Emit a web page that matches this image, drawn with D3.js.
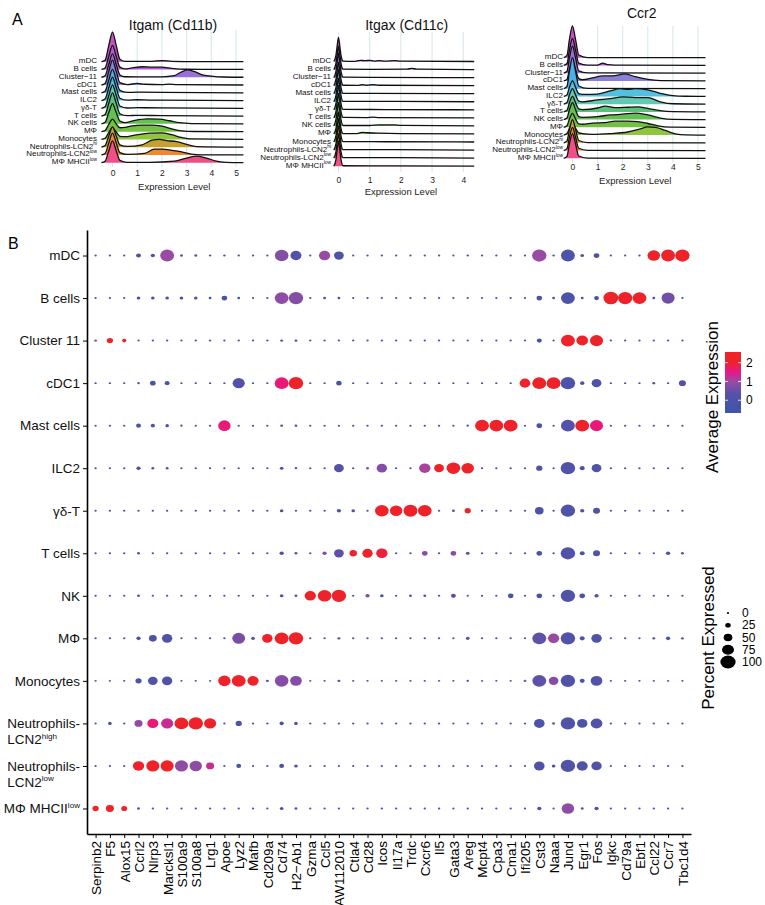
<!DOCTYPE html>
<html>
<head>
<meta charset="utf-8">
<script src="https://cdn.jsdelivr.net/npm/d3@7"></script>
<style>
  body { margin: 0; background: #fff; }
  text { font-family: 'Liberation Sans', Arial, Helvetica, sans-serif; }
</style>
</head>
<body>
<svg id="fig" width="765" height="905"></svg>
<script>
// ---------- panel A data: ridge densities, [expression level, density in row units] ----------
const ridgeCells = ['mDC', 'B cells', 'Cluster\u221211', 'cDC1', 'Mast cells', 'ILC2', 'γδ-T', 'T cells',
  'NK cells', 'MΦ', 'Monocytes', 'Neutrophils-LCN2^hi', 'Neutrophils-LCN2^low', 'MΦ MHCII^low']

const itgamDensity = [
  [[-0.45, 0], [-0.3, 0.2], [-0.15, 2.1], [0, 3.8], [0.15, 2.1], [0.3, 0.3], [0.5, 0.04], [1, 0.03], [1.6, 0.05], [2, 0.15], [2.4, 0.04], [3, 0.02], [5.3, 0]],
  [[-0.45, 0], [-0.3, 0.2], [-0.15, 1.7], [0, 3.1], [0.15, 1.7], [0.3, 0.3], [0.5, 0.08], [0.8, 0.2], [1.2, 0.35], [1.6, 0.3], [2, 0.3], [2.4, 0.15], [3, 0.03], [5.3, 0]],
  [[-0.45, 0], [-0.3, 0.2], [-0.15, 1.65], [0, 3.0], [0.15, 1.65], [0.3, 0.3], [0.5, 0.06], [1, 0.05], [2, 0.05], [2.5, 0.2], [2.8, 0.7], [3.05, 0.95], [3.3, 0.75], [3.6, 0.35], [4, 0.15], [4.5, 0.03], [5.3, 0]],
  [[-0.45, 0], [-0.3, 0.2], [-0.15, 1.75], [0, 3.2], [0.15, 1.75], [0.3, 0.3], [0.6, 0.06], [1, 0.2], [1.3, 0.1], [2, 0.06], [2.3, 0.12], [2.6, 0.05], [5.3, 0]],
  [[-0.45, 0], [-0.3, 0.2], [-0.15, 1.65], [0, 3.0], [0.15, 1.65], [0.3, 0.3], [0.6, 0.05], [1, 0.08], [2, 0.05], [5.3, 0]],
  [[-0.45, 0], [-0.3, 0.2], [-0.15, 1.65], [0, 3.0], [0.15, 1.65], [0.3, 0.3], [0.6, 0.05], [1, 0.1], [1.5, 0.06], [2, 0.05], [5.3, 0]],
  [[-0.45, 0], [-0.3, 0.2], [-0.15, 1.65], [0, 3.0], [0.15, 1.65], [0.3, 0.3], [0.6, 0.04], [1, 0.08], [2, 0.06], [5.3, 0]],
  [[-0.45, 0], [-0.3, 0.2], [-0.15, 1.65], [0, 3.0], [0.15, 1.65], [0.3, 0.3], [0.6, 0.05], [1, 0.1], [2, 0.05], [5.3, 0]],
  [[-0.45, 0], [-0.3, 0.2], [-0.15, 1.45], [0, 2.6], [0.15, 1.45], [0.3, 0.35], [0.5, 0.15], [0.9, 0.45], [1.4, 0.65], [1.9, 0.6], [2.3, 0.4], [2.7, 0.15], [3.2, 0.04], [5.3, 0]],
  [[-0.45, 0], [-0.3, 0.15], [-0.15, 0.95], [0, 1.6], [0.15, 1.0], [0.3, 0.5], [0.5, 0.55], [0.8, 0.75], [1.2, 0.85], [1.6, 0.85], [2, 0.7], [2.4, 0.35], [2.8, 0.1], [3.3, 0.02], [5.3, 0]],
  [[-0.45, 0], [-0.3, 0.15], [-0.15, 0.9], [0, 1.5], [0.15, 0.95], [0.3, 0.4], [0.5, 0.35], [0.9, 0.55], [1.5, 0.8], [2, 0.85], [2.4, 0.6], [2.8, 0.25], [3.2, 0.06], [5.3, 0]],
  [[-0.45, 0], [-0.3, 0.2], [-0.15, 1.45], [0, 2.6], [0.15, 1.45], [0.3, 0.3], [0.6, 0.1], [1.2, 0.3], [1.6, 0.9], [1.9, 1.0], [2.2, 0.85], [2.6, 0.7], [3, 0.35], [3.4, 0.08], [5.3, 0]],
  [[-0.45, 0], [-0.3, 0.2], [-0.15, 1.55], [0, 2.8], [0.15, 1.55], [0.3, 0.3], [0.6, 0.06], [1.3, 0.2], [1.7, 0.75], [2, 0.75], [2.4, 0.6], [2.8, 0.4], [3.2, 0.1], [3.6, 0.02], [5.3, 0]],
  [[-0.45, 0], [-0.3, 0.2], [-0.15, 1.55], [0, 2.8], [0.15, 1.55], [0.3, 0.3], [0.6, 0.05], [1.5, 0.05], [2.5, 0.2], [3, 0.6], [3.4, 0.85], [3.8, 0.6], [4.2, 0.2], [4.6, 0.05], [5.3, 0]]
]

const itgaxDensity = [
  [[-0.15, 0], [-0.08, 0.8], [-0.04, 2.0], [0, 3.0], [0.04, 2.0], [0.08, 0.8], [0.15, 0.05], [0.5, 0.02], [0.7, 0.15], [0.85, 0.1], [1, 0.15], [1.15, 0.05], [1.3, 0.12], [1.5, 0.04], [1.8, 0.12], [2, 0.04], [4.35, 0]],
  [[-0.15, 0], [-0.08, 0.8], [-0.04, 1.9], [0, 2.9], [0.04, 1.9], [0.08, 0.8], [0.15, 0.05], [1, 0.03], [2.2, 0.05], [2.35, 0.15], [2.5, 0.05], [4.35, 0]],
  [[-0.15, 0], [-0.08, 0.8], [-0.04, 2.0], [0, 3.0], [0.04, 2.0], [0.08, 0.8], [0.15, 0.05], [1, 0.02], [4.35, 0]],
  [[-0.15, 0], [-0.08, 0.8], [-0.04, 1.9], [0, 2.9], [0.04, 1.9], [0.08, 0.8], [0.15, 0.05], [0.6, 0.03], [0.75, 0.12], [0.9, 0.05], [1.1, 0.12], [1.3, 0.05], [4.35, 0]],
  [[-0.15, 0], [-0.08, 0.8], [-0.04, 2.0], [0, 3.0], [0.04, 2.0], [0.08, 0.8], [0.15, 0.05], [1, 0.03], [4.35, 0]],
  [[-0.15, 0], [-0.08, 0.8], [-0.04, 1.9], [0, 2.9], [0.04, 1.9], [0.08, 0.8], [0.15, 0.05], [1.8, 0.04], [4.35, 0]],
  [[-0.15, 0], [-0.08, 0.8], [-0.04, 2.0], [0, 3.0], [0.04, 2.0], [0.08, 0.8], [0.15, 0.05], [1.5, 0.03], [4.35, 0]],
  [[-0.15, 0], [-0.08, 0.8], [-0.04, 2.0], [0, 3.0], [0.04, 2.0], [0.08, 0.8], [0.15, 0.05], [0.9, 0.03], [1.1, 0.08], [1.3, 0.03], [4.35, 0]],
  [[-0.15, 0], [-0.08, 0.8], [-0.04, 1.9], [0, 2.9], [0.04, 1.9], [0.08, 0.8], [0.15, 0.05], [1, 0.05], [1.3, 0.12], [1.8, 0.12], [2, 0.06], [4.35, 0]],
  [[-0.15, 0], [-0.08, 0.7], [-0.04, 1.8], [0, 2.7], [0.04, 1.8], [0.08, 0.7], [0.15, 0.05], [0.6, 0.05], [0.75, 0.2], [0.95, 0.15], [1.3, 0.1], [2, 0.05], [4.35, 0]],
  [[-0.15, 0], [-0.08, 0.8], [-0.04, 1.9], [0, 2.9], [0.04, 1.9], [0.08, 0.8], [0.15, 0.05], [1.5, 0.03], [4.35, 0]],
  [[-0.15, 0], [-0.08, 0.8], [-0.04, 2.0], [0, 3.0], [0.04, 2.0], [0.08, 0.8], [0.15, 0.05], [1.8, 0.05], [4.35, 0]],
  [[-0.15, 0], [-0.08, 0.8], [-0.04, 2.0], [0, 3.0], [0.04, 2.0], [0.08, 0.8], [0.15, 0.05], [1.9, 0.06], [4.35, 0]],
  [[-0.15, 0], [-0.08, 0.85], [-0.04, 2.1], [0, 3.1], [0.04, 2.1], [0.08, 0.85], [0.15, 0.05], [1.8, 0.04], [4.35, 0]]
]

const ccr2Density = [
  [[-0.35, 0], [-0.22, 0.3], [-0.12, 2.4], [0, 4.1], [0.12, 2.4], [0.25, 0.35], [0.6, 0.02], [5.3, 0]],
  [[-0.35, 0], [-0.22, 0.25], [-0.12, 2.0], [0, 3.5], [0.12, 2.0], [0.25, 0.3], [0.6, 0.03], [1, 0.05], [1.2, 0.3], [1.4, 0.1], [2, 0.03], [5.3, 0]],
  [[-0.35, 0], [-0.22, 0.25], [-0.12, 2.0], [0, 3.5], [0.12, 2.0], [0.25, 0.3], [0.6, 0.03], [1, 0.03], [5.3, 0]],
  [[-0.35, 0], [-0.22, 0.2], [-0.12, 1.5], [0, 2.6], [0.12, 1.5], [0.25, 0.3], [0.4, 0.15], [0.8, 0.4], [1.2, 0.65], [1.6, 0.65], [2.1, 0.9], [2.5, 0.55], [3, 0.2], [3.5, 0.05], [5.3, 0]],
  [[-0.35, 0], [-0.22, 0.3], [-0.12, 2.3], [0, 4.0], [0.12, 2.3], [0.25, 0.35], [0.6, 0.03], [5.3, 0]],
  [[-0.35, 0], [-0.22, 0.2], [-0.12, 1.2], [0, 2.0], [0.12, 1.2], [0.25, 0.35], [0.4, 0.25], [1, 0.3], [1.5, 0.7], [1.9, 1.0], [2.2, 0.9], [2.5, 1.0], [3, 0.85], [3.5, 0.4], [4, 0.1], [4.5, 0.02], [5.3, 0]],
  [[-0.35, 0], [-0.22, 0.2], [-0.12, 1.2], [0, 2.0], [0.12, 1.2], [0.25, 0.4], [0.4, 0.3], [1, 0.55], [1.5, 0.7], [2, 0.95], [2.5, 0.85], [3, 0.85], [3.5, 0.3], [4, 0.05], [5.3, 0]],
  [[-0.35, 0], [-0.22, 0.2], [-0.12, 1.2], [0, 2.0], [0.12, 1.2], [0.25, 0.4], [0.4, 0.3], [1, 0.5], [1.3, 0.75], [1.7, 0.55], [2.2, 0.6], [2.6, 0.65], [3, 0.45], [3.5, 0.15], [4, 0.03], [5.3, 0]],
  [[-0.35, 0], [-0.22, 0.2], [-0.12, 1.3], [0, 2.2], [0.12, 1.3], [0.25, 0.4], [0.4, 0.3], [1, 0.4], [1.5, 0.6], [2, 0.7], [2.5, 0.85], [3, 0.6], [3.5, 0.2], [4, 0.03], [5.3, 0]],
  [[-0.35, 0], [-0.22, 0.2], [-0.12, 1.1], [0, 1.8], [0.12, 1.1], [0.25, 0.45], [0.4, 0.4], [0.8, 0.55], [1.3, 0.6], [1.7, 0.8], [2.2, 0.8], [2.6, 0.75], [3, 0.5], [3.4, 0.2], [3.9, 0.03], [5.3, 0]],
  [[-0.35, 0], [-0.22, 0.2], [-0.12, 0.9], [0, 1.5], [0.12, 0.9], [0.25, 0.3], [0.4, 0.2], [0.8, 0.1], [1.5, 0.2], [2.2, 0.4], [2.7, 0.8], [3, 1.05], [3.3, 1.0], [3.7, 0.6], [4.1, 0.15], [4.5, 0.02], [5.3, 0]],
  [[-0.35, 0], [-0.22, 0.25], [-0.12, 1.75], [0, 3.0], [0.12, 1.75], [0.25, 0.3], [0.6, 0.04], [5.3, 0]],
  [[-0.35, 0], [-0.22, 0.25], [-0.12, 1.75], [0, 3.0], [0.12, 1.75], [0.25, 0.3], [0.6, 0.03], [5.3, 0]],
  [[-0.35, 0], [-0.22, 0.25], [-0.12, 1.9], [0, 3.2], [0.12, 1.9], [0.25, 0.3], [0.6, 0.03], [5.3, 0]]
]

// ---------- panel B data: dot plot ----------
const cellTypes = ['mDC', 'B cells', 'Cluster 11', 'cDC1', 'Mast cells', 'ILC2', 'γδ-T', 'T cells', 'NK', 'MΦ',
  'Monocytes', 'Neutrophils-\nLCN2^high', 'Neutrophils-\nLCN2^low', 'MΦ MHCII^low']

const genes = ['Serpinb2', 'F5', 'Alox15', 'Ccrl2', 'Nlrp3', 'Marcksl1', 'S100a9', 'S100a8', 'Lrg1', 'Apoe',
  'Lyz2', 'Mafb', 'Cd209a', 'Cd74', 'H2\u2212Ab1', 'Gzma', 'Ccl5', 'AW112010', 'Ctla4', 'Cd28', 'Icos',
  'Il17a', 'Trdc', 'Cxcr6', 'Il5', 'Gata3', 'Areg', 'Mcpt4', 'Cpa3', 'Cma1', 'Ifi205', 'Cst3', 'Naaa',
  'Jund', 'Egr1', 'Fos', 'Igkc', 'Cd79a', 'Ebf1', 'Ccl22', 'Ccr7', 'Tbc1d4']

// percent of cells expressing, one row per cell type, one value per gene
const pctExpressed = [
  [1, 1, 1, 21, 16, 90, 5, 5, 3, 3, 2, 1, 1, 88, 68, 1, 70, 58, 1, 1, 1, 1, 1, 1, 1, 1, 3, 1, 1, 1, 1, 94, 3, 90, 11, 26, 1, 1, 1, 79, 90, 94],
  [1, 1, 1, 11, 11, 11, 11, 11, 5, 26, 5, 1, 1, 90, 94, 1, 5, 5, 1, 1, 1, 1, 1, 1, 1, 1, 1, 1, 1, 1, 1, 26, 5, 90, 5, 21, 97, 94, 90, 5, 84, 1],
  [5, 31, 16, 1, 1, 1, 1, 1, 1, 1, 1, 1, 1, 5, 5, 1, 1, 1, 1, 1, 1, 1, 1, 1, 1, 1, 1, 1, 1, 1, 1, 21, 1, 90, 73, 84, 1, 1, 1, 1, 1, 1],
  [1, 1, 1, 3, 26, 21, 1, 1, 1, 1, 76, 1, 1, 90, 94, 1, 1, 24, 1, 1, 1, 1, 1, 1, 1, 1, 1, 1, 1, 1, 65, 90, 90, 94, 16, 58, 1, 1, 1, 5, 1, 37],
  [1, 1, 1, 21, 16, 11, 2, 1, 1, 79, 1, 1, 1, 5, 5, 1, 1, 1, 1, 1, 1, 1, 1, 1, 1, 1, 2, 90, 88, 90, 1, 26, 1, 90, 90, 84, 1, 1, 1, 1, 1, 1],
  [1, 1, 1, 16, 5, 5, 1, 1, 1, 1, 1, 1, 1, 11, 3, 1, 1, 58, 1, 5, 63, 1, 1, 70, 58, 88, 79, 1, 1, 1, 1, 31, 1, 94, 21, 58, 1, 1, 1, 1, 1, 1],
  [1, 1, 1, 1, 1, 1, 1, 1, 1, 1, 1, 1, 1, 11, 1, 1, 1, 16, 11, 1, 88, 79, 90, 88, 1, 5, 31, 1, 1, 1, 1, 50, 1, 94, 16, 37, 1, 1, 1, 1, 1, 1],
  [1, 1, 1, 5, 1, 1, 1, 1, 1, 1, 1, 1, 1, 16, 5, 1, 16, 58, 40, 63, 70, 1, 1, 26, 1, 26, 11, 1, 1, 1, 1, 26, 1, 94, 21, 37, 1, 1, 1, 1, 16, 5],
  [1, 1, 1, 5, 1, 1, 1, 1, 1, 1, 1, 1, 1, 11, 5, 70, 88, 94, 1, 16, 11, 1, 5, 5, 1, 21, 1, 1, 1, 26, 1, 26, 1, 94, 26, 16, 1, 1, 1, 1, 1, 1],
  [1, 1, 1, 16, 43, 63, 1, 1, 1, 1, 82, 11, 63, 90, 94, 1, 1, 5, 1, 1, 1, 1, 1, 1, 1, 1, 11, 1, 1, 1, 1, 90, 70, 94, 21, 63, 1, 1, 1, 5, 16, 5],
  [1, 1, 1, 31, 58, 63, 1, 1, 1, 79, 90, 70, 5, 88, 73, 1, 1, 5, 1, 1, 1, 1, 1, 1, 1, 1, 3, 1, 1, 1, 5, 90, 58, 94, 21, 73, 1, 1, 1, 1, 1, 1],
  [1, 11, 1, 45, 68, 76, 90, 94, 76, 1, 31, 1, 1, 16, 11, 1, 1, 1, 1, 1, 1, 1, 1, 1, 1, 1, 1, 1, 1, 1, 1, 65, 5, 94, 63, 73, 1, 1, 1, 1, 1, 1],
  [1, 1, 1, 70, 84, 84, 84, 79, 45, 1, 21, 1, 1, 21, 11, 1, 1, 1, 1, 1, 1, 1, 1, 1, 1, 1, 1, 1, 1, 1, 1, 65, 11, 94, 68, 63, 1, 1, 1, 1, 1, 1],
  [31, 45, 29, 5, 1, 1, 1, 1, 1, 1, 1, 1, 1, 11, 5, 1, 1, 1, 1, 1, 1, 1, 1, 1, 1, 1, 1, 1, 1, 1, 1, 16, 1, 79, 5, 16, 1, 1, 1, 1, 1, 1]
]

// scaled average expression, same layout
const avgExpression = [
  [-0.3, -0.3, -0.3, -0.1, -0.1, 1.0, -0.2, -0.2, -0.3, -0.3, -0.3, -0.3, -0.3, 0.8, 0.3, -0.3, 1.0, 0.2, -0.3, -0.3, -0.3, -0.3, -0.3, -0.3, -0.3, -0.3, -0.3, -0.3, -0.3, -0.3, -0.3, 1.0, -0.3, 0, -0.2, -0.1, -0.3, -0.3, -0.3, 2.3, 2.3, 2.3],
  [-0.3, -0.3, -0.3, -0.2, -0.2, -0.2, -0.2, -0.2, -0.3, -0.1, -0.3, -0.3, -0.3, 0.9, 0.8, -0.3, -0.3, -0.3, -0.3, -0.3, -0.3, -0.3, -0.3, -0.3, -0.3, -0.3, -0.3, -0.3, -0.3, -0.3, -0.3, -0.1, -0.3, 0, -0.3, -0.1, 2.3, 2.3, 2.3, -0.3, 0.6, -0.3],
  [0.9, 2.3, 2.3, -0.3, -0.3, -0.3, -0.3, -0.3, -0.3, -0.3, -0.3, -0.3, -0.3, -0.3, -0.3, -0.3, -0.3, -0.3, -0.3, -0.3, -0.3, -0.3, -0.3, -0.3, -0.3, -0.3, -0.3, -0.3, -0.3, -0.3, -0.3, -0.1, -0.3, 2.3, 2.3, 2.3, -0.3, -0.3, -0.3, -0.3, -0.3, -0.3],
  [-0.3, -0.3, -0.3, -0.3, -0.1, -0.1, -0.3, -0.3, -0.3, -0.3, 0.3, -0.3, -0.3, 1.6, 2.2, -0.3, -0.3, -0.1, -0.3, -0.3, -0.3, -0.3, -0.3, -0.3, -0.3, -0.3, -0.3, -0.3, -0.3, -0.3, 2.3, 2.3, 2.3, 0, -0.1, 0.1, -0.3, -0.3, -0.3, -0.2, -0.3, 0.2],
  [-0.3, -0.3, -0.3, -0.1, -0.1, -0.2, -0.3, -0.3, -0.3, 1.6, -0.3, -0.3, -0.3, -0.2, -0.2, -0.3, -0.3, -0.3, -0.3, -0.3, -0.3, -0.3, -0.3, -0.3, -0.3, -0.3, -0.3, 2.3, 2.3, 2.3, -0.3, -0.1, -0.3, 0.2, 2.3, 1.6, -0.3, -0.3, -0.3, -0.3, -0.3, -0.3],
  [-0.3, -0.3, -0.3, -0.1, -0.2, -0.2, -0.3, -0.3, -0.3, -0.3, -0.3, -0.3, -0.3, -0.1, -0.3, -0.3, -0.3, 0.2, -0.3, 0.7, 0.8, -0.3, -0.3, 1.1, 2.2, 2.3, 2.3, -0.3, -0.3, -0.3, -0.3, -0.1, -0.3, 0.1, -0.1, 0.1, -0.3, -0.3, -0.3, -0.3, -0.3, -0.3],
  [-0.3, -0.3, -0.3, -0.3, -0.3, -0.3, -0.3, -0.3, -0.3, -0.3, -0.3, -0.3, -0.3, -0.1, -0.3, -0.3, -0.3, -0.1, -0.1, -0.3, 2.3, 2.3, 2.3, 2.3, -0.3, -0.2, 2.3, -0.3, -0.3, -0.3, -0.3, 0, -0.3, 0.1, -0.1, 0, -0.3, -0.3, -0.3, -0.3, -0.3, -0.3],
  [-0.3, -0.3, -0.3, -0.2, -0.3, -0.3, -0.3, -0.3, -0.3, -0.3, -0.3, -0.3, -0.3, -0.1, -0.2, -0.3, 0.8, 0.4, 2.2, 2.3, 1.9, -0.3, -0.3, 0.8, -0.3, 0.8, -0.1, -0.3, -0.3, -0.3, -0.3, -0.1, -0.3, 0.1, -0.1, 0, -0.3, -0.3, -0.3, -0.3, -0.1, -0.2],
  [-0.3, -0.3, -0.3, -0.2, -0.3, -0.3, -0.3, -0.3, -0.3, -0.3, -0.3, -0.3, -0.3, -0.1, -0.2, 2.3, 2.3, 2.3, -0.3, 0.7, -0.1, -0.3, -0.2, -0.2, -0.3, 0.3, -0.3, -0.3, -0.3, -0.1, -0.3, -0.1, -0.3, 0.1, -0.1, -0.1, -0.3, -0.3, -0.3, -0.3, -0.3, -0.3],
  [-0.3, -0.3, -0.3, -0.1, 0, 0.1, -0.3, -0.3, -0.3, -0.3, 0.7, -0.2, 2.3, 2.3, 2.3, -0.3, -0.3, -0.2, -0.3, -0.3, -0.3, -0.3, -0.3, -0.3, -0.3, -0.3, -0.1, -0.3, -0.3, -0.3, -0.3, 0.4, 1.0, 0.1, -0.1, 0.1, -0.3, -0.3, -0.3, -0.2, -0.1, -0.2],
  [-0.3, -0.3, -0.3, 0, 0.1, 0.1, -0.3, -0.3, -0.3, 2.3, 2.3, 2.3, -0.2, 0.8, 0.8, -0.3, -0.3, -0.2, -0.3, -0.3, -0.3, -0.3, -0.3, -0.3, -0.3, -0.3, -0.2, -0.3, -0.3, -0.3, 0.8, 0.4, 0.8, 0.1, -0.1, 0.2, -0.3, -0.3, -0.3, -0.3, -0.3, -0.3],
  [-0.3, -0.2, -0.3, 0.9, 1.6, 1.3, 2.3, 2.3, 2.3, -0.3, 0, -0.3, -0.3, -0.1, -0.1, -0.3, -0.3, -0.3, -0.3, -0.3, -0.3, -0.3, -0.3, -0.3, -0.3, -0.3, -0.3, -0.3, -0.3, -0.3, -0.3, 0, -0.2, 0.1, 0, 0.1, -0.3, -0.3, -0.3, -0.3, -0.3, -0.3],
  [-0.3, -0.3, -0.3, 2.3, 2.3, 2.3, 0.9, 0.9, 1.3, -0.3, -0.1, -0.3, -0.3, -0.1, -0.2, -0.3, -0.3, -0.3, -0.3, -0.3, -0.3, -0.3, -0.3, -0.3, -0.3, -0.3, -0.3, -0.3, -0.3, -0.3, -0.3, 0.1, -0.2, 0.1, 0.1, 0.1, -0.3, -0.3, -0.3, -0.3, -0.3, -0.3],
  [2.3, 2.3, 2.3, -0.2, -0.3, -0.3, -0.3, -0.3, -0.3, -0.3, -0.3, -0.3, -0.3, -0.1, -0.2, -0.3, -0.3, -0.3, -0.3, -0.3, -0.3, -0.3, -0.3, -0.3, -0.3, -0.3, -0.3, -0.3, -0.3, -0.3, -0.3, -0.1, -0.3, 0.9, -0.2, -0.1, -0.3, -0.3, -0.3, -0.3, -0.3, -0.3]
]

const colorTicks = [0, 1, 2]
const sizeTicks = [0, 25, 50, 75, 100]

// ---------- styles ----------
const ridgeFill = ['#c94fc4', '#b25ccf', '#9b6fd8', '#8a80d8', '#4bb0ea', '#52c0e0', '#62c9b2', '#5cc27a',
  '#63c150', '#74c043', '#8fc63e', '#c6a12c', '#f0892c', '#ef4f86']

const svg = d3.select('#fig')

function richText (g, str, x, y, size, anchor) {
  const parts = str.split('^')
  const t = g.append('text')
    .attr('x', x).attr('y', y)
    .attr('text-anchor', anchor)
    .style('font-size', size + 'px')
    .attr('fill', '#111')
  t.append('tspan').text(parts[0])
  if (parts[1]) {
    t.append('tspan').attr('dy', -size * 0.4).style('font-size', (size * 0.6) + 'px').text(parts[1])
  }
  return t
}

// ---------- panel A ----------
const ridgePanels = [
  { title: 'Itgam (Cd11b)', titleX: 173, titleY: 30, xDomain: [-0.45, 5.3], xRange: [101.4, 243.4], ticks: [0, 1, 2, 3, 4, 5],
    top: 61.7, step: 7.77, labelRight: 97, gridTop: 30, gridBottom: 167, tickY: 170, axisTitleY: 190, density: itgamDensity },
  { title: 'Itgax (Cd11c)', titleX: 406.7, titleY: 30, xDomain: [-0.15, 4.35], xRange: [333.8, 474.2], ticks: [0, 1, 2, 3, 4],
    top: 61.5, step: 8.05, labelRight: 331, gridTop: 32, gridBottom: 172, tickY: 177, axisTitleY: 195, density: itgaxDensity },
  { title: 'Ccr2', titleX: 641.7, titleY: 18, xDomain: [-0.35, 5.3], xRange: [563.7, 705.5], ticks: [0, 1, 2, 3, 4, 5],
    top: 57.7, step: 7.74, labelRight: 563, gridTop: 26, gridBottom: 163, tickY: 163.5, axisTitleY: 184, density: ccr2Density }
]

function ridgePanel (p) {
  const g = svg.append('g')
  const x = d3.scaleLinear().domain(p.xDomain).range(p.xRange)
  const y = d3.scalePoint().domain(ridgeCells).range([p.top, p.top + p.step * (ridgeCells.length - 1)])
  const h = d3.scaleLinear().domain([0, 1]).range([0, p.step])

  g.selectAll('line.grid').data(p.ticks).join('line')
    .attr('class', 'grid')
    .attr('x1', d => x(d)).attr('x2', d => x(d))
    .attr('y1', p.gridTop).attr('y2', p.gridBottom)
    .attr('stroke', '#d9e8ec').attr('stroke-width', 1.1)

  p.density.forEach((pts, i) => {
    const base = y(ridgeCells[i])
    const area = d3.area()
      .x(d => x(d[0])).y0(base).y1(d => base - h(d[1]))
      .curve(d3.curveMonotoneX)
    const line = d3.line()
      .x(d => x(d[0])).y(d => base - h(d[1]))
      .curve(d3.curveMonotoneX)
    g.append('path').attr('d', area(pts)).attr('fill', ridgeFill[i])
    g.append('path').attr('d', line(pts)).attr('fill', 'none')
      .attr('stroke', '#111').attr('stroke-width', 1.3).attr('stroke-linejoin', 'round')
  })

  ridgeCells.forEach(c => {
    richText(g, c, p.labelRight, y(c) + 1.5, 8, 'end')
  })

  const axis = g.append('g').attr('transform', `translate(0,${p.tickY})`)
    .call(d3.axisBottom(x).tickValues(p.ticks).tickSize(0).tickPadding(0).tickFormat(d3.format('d')))
  axis.select('.domain').remove()
  axis.selectAll('.tick text').style('font-size', '8.5px').attr('fill', '#222')
    .style('font-family', "'Liberation Sans', Arial, sans-serif")

  g.append('text').attr('x', (x(p.ticks[0]) + x(p.ticks[p.ticks.length - 1])) / 2).attr('y', p.axisTitleY)
    .attr('text-anchor', 'middle').style('font-size', '9.5px').attr('fill', '#222').text('Expression Level')
  g.append('text').attr('x', p.titleX).attr('y', p.titleY)
    .attr('text-anchor', 'middle').style('font-size', '14px').attr('fill', '#111').text(p.title)
}

ridgePanels.forEach(ridgePanel)

svg.append('text').attr('x', 12).attr('y', 25).style('font-size', '16px').text('A')
svg.append('text').attr('x', 8).attr('y', 249).style('font-size', '16px').text('B')

// ---------- panel B ----------
const xDot = d3.scalePoint().domain(genes).range([87, 691]).padding(0.6)
const yDot = d3.scalePoint().domain(cellTypes).range([230, 834]).padding(0.6)
const radius = d3.scaleLinear().domain([0, 100]).range([1.1, 7.6])
const color = d3.scaleLinear()
  .domain([-0.7, 0.3, 1.0, 1.5, 2.0])
  .range(['#3e55aa', '#5452a8', '#994ba4', '#e8178a', '#ee2229'])
  .clamp(true)

const dots = []
cellTypes.forEach((c, i) => {
  genes.forEach((gname, j) => {
    dots.push({ cell: c, gene: gname, pct: pctExpressed[i][j], avg: avgExpression[i][j] })
  })
})

const dotG = svg.append('g')
dotG.selectAll('ellipse').data(dots).join('ellipse')
  .attr('cx', d => xDot(d.gene))
  .attr('cy', d => yDot(d.cell))
  .attr('rx', d => radius(d.pct))
  .attr('ry', d => radius(d.pct) * 0.85)
  .attr('fill', d => color(d.avg))

const xAxis = svg.append('g').attr('transform', 'translate(0,834)')
  .call(d3.axisBottom(xDot).tickSize(4).tickSizeOuter(0))
xAxis.select('.domain').attr('stroke', '#000').attr('stroke-width', 1.6)
xAxis.selectAll('.tick line').attr('stroke', '#000').attr('stroke-width', 1)
xAxis.selectAll('.tick text')
  .attr('transform', 'rotate(-90)')
  .attr('x', -7).attr('y', 0).attr('dy', '0.36em')
  .attr('text-anchor', 'end')
  .attr('fill', '#000')
  .style('font-size', '13.5px')
  .style('font-family', "'Liberation Sans', Arial, sans-serif")

const yAxis = svg.append('g').attr('transform', 'translate(87,0)')
  .call(d3.axisLeft(yDot).tickSize(4).tickSizeOuter(0).tickFormat(''))
yAxis.select('.domain').attr('stroke', '#000').attr('stroke-width', 1.6)
yAxis.selectAll('.tick line').attr('stroke', '#000').attr('stroke-width', 1)

cellTypes.forEach(c => {
  const lines = c.split('\n')
  const yy = yDot(c) + 4.8
  const first = richText(svg, lines[0], 80, yy, 13.5, 'end')
  if (lines[1]) {
    const w = first.node().getComputedTextLength()
    richText(svg, lines[1], 80 - w, yy + 16, 13.5, 'start')
  }
})

// colour legend
const cbY = d3.scaleLinear().domain([-0.68, 2.57]).range([413, 352])
const defs = svg.append('defs')
const grad = defs.append('linearGradient').attr('id', 'cbar')
  .attr('x1', 0).attr('x2', 0).attr('y1', 1).attr('y2', 0)
d3.range(0, 1.0001, 0.05).forEach(t => {
  grad.append('stop').attr('offset', t).attr('stop-color', color(cbY.domain()[0] + t * (cbY.domain()[1] - cbY.domain()[0])))
})
svg.append('rect').attr('x', 725).attr('y', 352).attr('width', 16).attr('height', 61).attr('fill', 'url(#cbar)')
colorTicks.forEach(v => {
  svg.append('line').attr('x1', 725).attr('x2', 728).attr('y1', cbY(v)).attr('y2', cbY(v)).attr('stroke', '#fff').attr('stroke-width', 0.8)
  svg.append('line').attr('x1', 738).attr('x2', 741).attr('y1', cbY(v)).attr('y2', cbY(v)).attr('stroke', '#fff').attr('stroke-width', 0.8)
  svg.append('text').attr('x', 746).attr('y', cbY(v) + 4.2).style('font-size', '12px').text(v)
})
svg.append('text').attr('transform', 'translate(718,397) rotate(-90)').attr('text-anchor', 'middle')
  .style('font-size', '17px').text('Average Expression')

// size legend
const legY = d3.scalePoint().domain(sizeTicks).range([613, 662])
sizeTicks.forEach(v => {
  svg.append('ellipse').attr('cx', 728).attr('cy', legY(v))
    .attr('rx', radius(v)).attr('ry', radius(v) * 0.85).attr('fill', '#000')
  svg.append('text').attr('x', 742).attr('y', legY(v) + 4.2).style('font-size', '12px').text(v)
})
svg.append('text').attr('transform', 'translate(714,638) rotate(-90)').attr('text-anchor', 'middle')
  .style('font-size', '17px').text('Percent Expressed')
</script>
</body>
</html>
